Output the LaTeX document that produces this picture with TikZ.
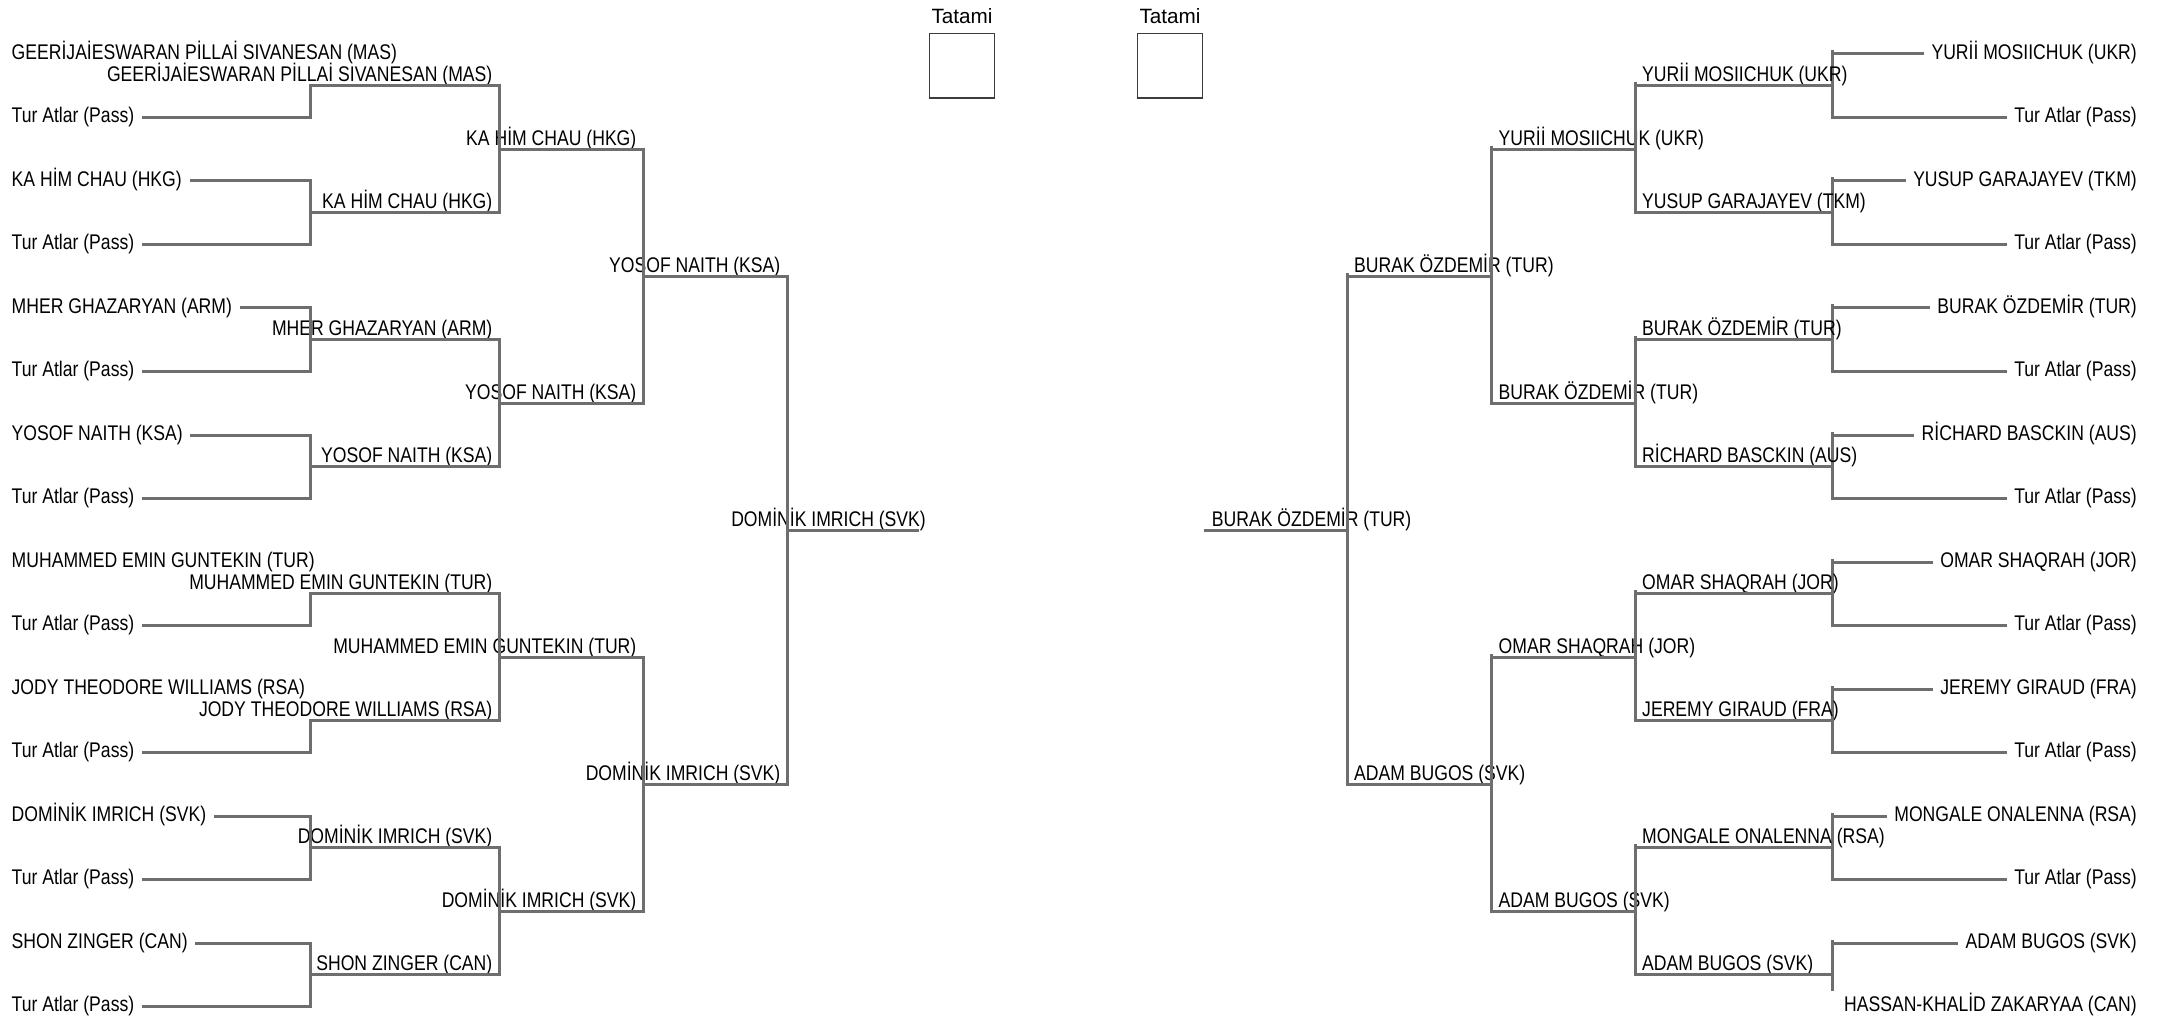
\documentclass[tikz,border=0pt]{standalone}
\usepackage{fontspec}
\setmainfont{Liberation Sans}
\newfontfamily\namefont{Liberation Sans}[FakeStretch=0.83]
\usetikzlibrary{calc}
\definecolor{linegray}{RGB}{110,110,110}
\definecolor{boxgray}{RGB}{60,60,60}

\begin{document}
\begin{tikzpicture}[
    x=1pt, y=-1pt,
    bracket/.style={draw=linegray, line width=3pt, line cap=rect},
    entrant/.style={inner xsep=9pt, inner ysep=0pt, font=\namefont\fontsize{21.2}{25}\selectfont},
    winner/.style={inner sep=0pt, font=\namefont\fontsize{21.2}{25}\selectfont},
    tatamibox/.style={draw=boxgray, line width=1.3pt, minimum size=64.4pt, inner sep=0pt}
  ]
  \useasboundingbox (0,0) rectangle (2158,1016);

  % Tatami
  \node[font=\fontsize{20.7}{24}\selectfont, anchor=base] (tatamiA) at (962,24) {Tatami};
  \node[tatamibox] (boxA) at (962,65.7) {};
  \node[font=\fontsize{20.7}{24}\selectfont, anchor=base] (tatamiB) at (1170,24) {Tatami};
  \node[tatamibox] (boxB) at (1170,65.7) {};

  % left half, first round
  \foreach \nm [count=\i from 0] in {{GEERİJAİESWARAN PİLLAİ SIVANESAN (MAS)}, {Tur Atlar (Pass)},
      {KA HİM CHAU (HKG)}, {Tur Atlar (Pass)}, {MHER GHAZARYAN (ARM)}, {Tur Atlar (Pass)},
      {YOSOF NAITH (KSA)}, {Tur Atlar (Pass)}, {MUHAMMED EMIN GUNTEKIN (TUR)}, {Tur Atlar (Pass)},
      {JODY THEODORE WILLIAMS (RSA)}, {Tur Atlar (Pass)}, {DOMİNİK IMRICH (SVK)}, {Tur Atlar (Pass)},
      {SHON ZINGER (CAN)}, {Tur Atlar (Pass)}}
    \node[entrant, anchor=base west] (L1-\i) at (2.5, 59.3+63.5*\i) {\nm};

  % left half, second round
  \foreach \nm [count=\k from 0] in {{GEERİJAİESWARAN PİLLAİ SIVANESAN (MAS)}, {KA HİM CHAU (HKG)},
      {MHER GHAZARYAN (ARM)}, {YOSOF NAITH (KSA)}, {MUHAMMED EMIN GUNTEKIN (TUR)},
      {JODY THEODORE WILLIAMS (RSA)}, {DOMİNİK IMRICH (SVK)}, {SHON ZINGER (CAN)}} {
    \coordinate (L2a-\k) at (310, 85.75+127*\k);
    \coordinate (L2b-\k) at (499, 85.75+127*\k);
    \node[winner, anchor=base east] (L2-\k) at (492.5, 81.75+127*\k) {\nm};
    \draw[bracket] (L2a-\k) -- (L2b-\k);
  }
  \foreach \i in {1,2,3,4,5,6,7,9,11,12,13,14,15} {
    \pgfmathtruncatemacro{\k}{floor(\i/2)}
    \coordinate (LJ-\i) at (310, 54+63.5*\i);
    \draw[bracket] (L1-\i.east |- LJ-\i) -- (LJ-\i) -- (L2a-\k);
  }

  % left half, third round
  \foreach \nm [count=\j from 0] in {{KA HİM CHAU (HKG)}, {YOSOF NAITH (KSA)},
      {MUHAMMED EMIN GUNTEKIN (TUR)}, {DOMİNİK IMRICH (SVK)}} {
    \pgfmathtruncatemacro{\a}{2*\j}
    \pgfmathtruncatemacro{\b}{2*\j+1}
    \coordinate (L3a-\j) at ($(L2b-\a)!0.5!(L2b-\b)$);
    \coordinate (L3b-\j) at (643, 149.25+254*\j);
    \node[winner, anchor=base east] (L3-\j) at (636.5, 145.25+254*\j) {\nm};
    \draw[bracket] (L2b-\a) -- (L2b-\b);
    \draw[bracket] (L3a-\j) -- (L3b-\j);
  }

  % left half, fourth round
  \foreach \nm [count=\m from 0] in {{YOSOF NAITH (KSA)}, {DOMİNİK IMRICH (SVK)}} {
    \pgfmathtruncatemacro{\a}{2*\m}
    \pgfmathtruncatemacro{\b}{2*\m+1}
    \coordinate (L4a-\m) at ($(L3b-\a)!0.5!(L3b-\b)$);
    \coordinate (L4b-\m) at (787, 276.25+508*\m);
    \node[winner, anchor=base east] (L4-\m) at (780.5, 272.25+508*\m) {\nm};
    \draw[bracket] (L3b-\a) -- (L3b-\b);
    \draw[bracket] (L4a-\m) -- (L4b-\m);
  }

  % left final
  \coordinate (L5a) at ($(L4b-0)!0.5!(L4b-1)$);
  \coordinate (L5b) at (917, 530.25);
  \node[winner, anchor=base east] (L5) at (926, 526.25) {DOMİNİK IMRICH (SVK)};
  \draw[bracket] (L4b-0) -- (L4b-1);
  \draw[bracket] (L5a) -- (L5b);

  % right half, first round
  \foreach \nm [count=\i from 0] in {{YURİİ MOSIICHUK (UKR)}, {Tur Atlar (Pass)},
      {YUSUP GARAJAYEV (TKM)}, {Tur Atlar (Pass)}, {BURAK ÖZDEMİR (TUR)}, {Tur Atlar (Pass)},
      {RİCHARD BASCKIN (AUS)}, {Tur Atlar (Pass)}, {OMAR SHAQRAH (JOR)}, {Tur Atlar (Pass)},
      {JEREMY GIRAUD (FRA)}, {Tur Atlar (Pass)}, {MONGALE ONALENNA (RSA)}, {Tur Atlar (Pass)},
      {ADAM BUGOS (SVK)}, {HASSAN-KHALİD ZAKARYAA (CAN)}}
    \node[entrant, anchor=base east] (R1-\i) at (2146, 59.3+63.5*\i) {\nm};
  \foreach \i in {0,...,14} {
    \coordinate (RJ-\i) at (1832, 54+63.5*\i);
    \draw[bracket] (R1-\i.west |- RJ-\i) -- (RJ-\i);
  }
  \coordinate (RJend) at (1832, 989);
  \foreach \k in {0,...,6} {
    \pgfmathtruncatemacro{\a}{2*\k}
    \pgfmathtruncatemacro{\b}{2*\k+1}
    \draw[bracket] ([yshift=2pt]RJ-\a) -- (RJ-\b);
  }
  \draw[bracket] ([yshift=2pt]RJ-14) -- (RJend);

  % right half, second round
  \foreach \nm [count=\k from 0] in {{YURİİ MOSIICHUK (UKR)}, {YUSUP GARAJAYEV (TKM)},
      {BURAK ÖZDEMİR (TUR)}, {RİCHARD BASCKIN (AUS)}, {OMAR SHAQRAH (JOR)},
      {JEREMY GIRAUD (FRA)}, {MONGALE ONALENNA (RSA)}, {ADAM BUGOS (SVK)}} {
    \coordinate (R2a-\k) at (1832, 85.75+127*\k);
    \coordinate (R2b-\k) at (1635, 85.75+127*\k);
    \node[winner, anchor=base west] (R2-\k) at (1642, 81.75+127*\k) {\nm};
    \draw[bracket] (R2a-\k) -- (R2b-\k);
  }

  % right half, third round
  \foreach \nm [count=\j from 0] in {{YURİİ MOSIICHUK (UKR)}, {BURAK ÖZDEMİR (TUR)},
      {OMAR SHAQRAH (JOR)}, {ADAM BUGOS (SVK)}} {
    \pgfmathtruncatemacro{\a}{2*\j}
    \pgfmathtruncatemacro{\b}{2*\j+1}
    \coordinate (R3a-\j) at ($(R2b-\a)!0.5!(R2b-\b)$);
    \coordinate (R3b-\j) at (1491.5, 149.25+254*\j);
    \node[winner, anchor=base west] (R3-\j) at (1498.5, 145.25+254*\j) {\nm};
    \draw[bracket] ([yshift=2pt]R2b-\a) -- (R2b-\b);
    \draw[bracket] (R3a-\j) -- (R3b-\j);
  }

  % right half, fourth round
  \foreach \nm [count=\m from 0] in {{BURAK ÖZDEMİR (TUR)}, {ADAM BUGOS (SVK)}} {
    \pgfmathtruncatemacro{\a}{2*\m}
    \pgfmathtruncatemacro{\b}{2*\m+1}
    \coordinate (R4a-\m) at ($(R3b-\a)!0.5!(R3b-\b)$);
    \coordinate (R4b-\m) at (1347.3, 276.25+508*\m);
    \node[winner, anchor=base west] (R4-\m) at (1354, 272.25+508*\m) {\nm};
    \draw[bracket] ([yshift=2pt]R3b-\a) -- (R3b-\b);
    \draw[bracket] (R4a-\m) -- (R4b-\m);
  }

  % right final
  \coordinate (R5a) at ($(R4b-0)!0.5!(R4b-1)$);
  \coordinate (R5b) at (1205, 530.25);
  \node[winner, anchor=base west] (R5) at (1211.7, 526.25) {BURAK ÖZDEMİR (TUR)};
  \draw[bracket] ([yshift=2pt]R4b-0) -- (R4b-1);
  \draw[bracket] (R5a) -- (R5b);

\end{tikzpicture}
\end{document}
